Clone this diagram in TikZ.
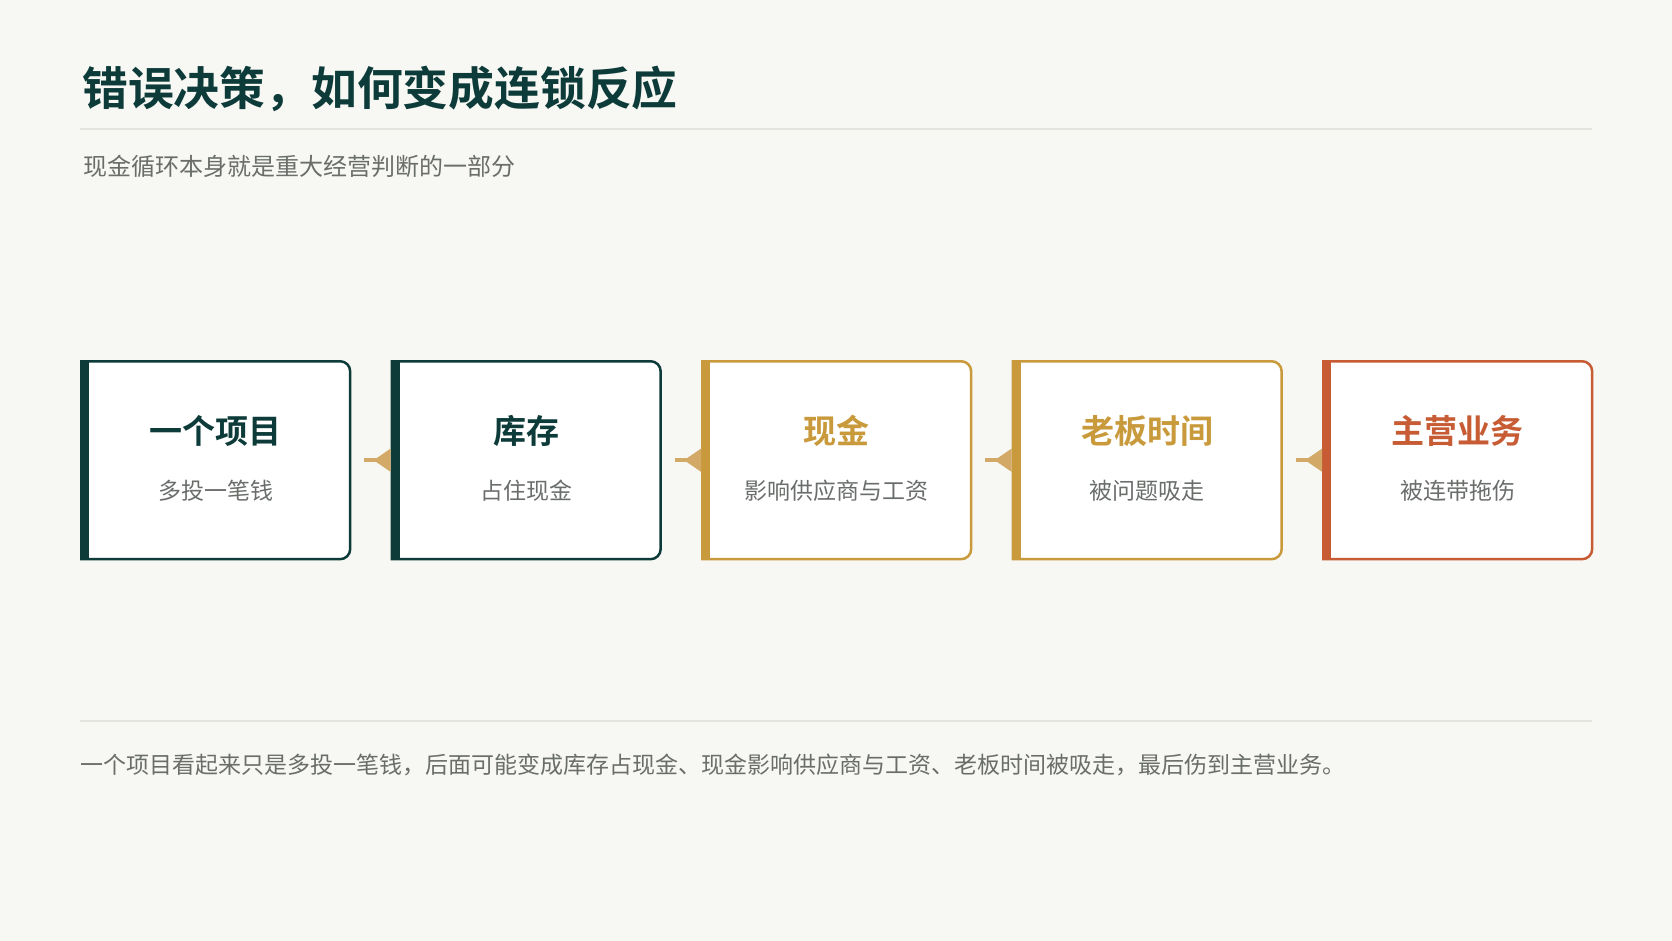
\documentclass[tikz,border=0pt]{standalone}
\usepackage{fontspec}
\usepackage{tikz}
\usetikzlibrary{
  positioning
  , calc
  , arrows.meta
}
\newfontfamily\sansCJK{Noto Sans CJK SC}
\newfontfamily\boldCJK{Noto Sans CJK SC Bold}

\definecolor{pagebg}{HTML}{F7F7F3}
\definecolor{rulegray}{HTML}{E4E4DF}
\definecolor{deepgreen}{HTML}{0D3B39}
\definecolor{gold}{HTML}{C99A3B}
\definecolor{rust}{HTML}{C65B34}
\definecolor{textgray}{HTML}{6A6E6B}
\definecolor{linkgold}{HTML}{D2A966}

\tikzset{
  stage/.style={minimum width=268.5pt, minimum height=197.5pt, inner sep=0pt, anchor=north west},
  head/.style={anchor=base, inner sep=0pt, font=\boldCJK\fontsize{33}{36}\selectfont},
  note/.style={anchor=base, inner sep=0pt, textgray, font=\sansCJK\fontsize{23}{26}\selectfont},
  link/.style={line width=4pt, linkgold, -{Triangle[reversed, length=17pt, width=22pt]}},
  hrule/.style={rulegray, line width=2pt},
}

\begin{document}
\begin{tikzpicture}[x=1pt, y=-1pt]
  \fill[pagebg] (0,0) rectangle (1672,941);

  \node[anchor=base west, inner sep=0pt, deepgreen, font=\boldCJK\fontsize{45.8}{50}\selectfont] (title) at (82,106) {错误决策，如何变成连锁反应};
  \draw[hrule] (80,129) coordinate (ruleL) -- (1592,129) coordinate (ruleR);
  \node[anchor=base west, inner sep=0pt, textgray, font=\sansCJK\fontsize{24}{28}\selectfont] (subtitle) at (83,176) {现金循环本身就是重大经营判断的一部分};

  % the five steps of the chain
  \foreach \i/\col/\ttl/\txt in {1/deepgreen/一个项目/多投一笔钱, 2/deepgreen/库存/占住现金, 3/gold/现金/影响供应商与工资, 4/gold/老板时间/被问题吸走, 5/rust/主营业务/被连带拖伤} {
    \node[stage] (b\i) at ({81.25+(\i-1)*310.5}, 361.25) {};
    \draw[\col, line width=2.5pt, fill=white] (b\i.north west) [rounded corners=10pt] -- (b\i.north east) -- (b\i.south east) [sharp corners] -- (b\i.south west) -- cycle;
    \fill[\col] ([shift={(-1.25pt,1.25pt)}]b\i.north west) rectangle ([shift={(7.75pt,-1.25pt)}]b\i.south west);
    \node[head, \col] (h\i) at ([yshift=17pt]b\i.center) {\ttl};
    \node[note] (n\i) at ([yshift=-39pt]b\i.center) {\txt};
  }
  \foreach \i [evaluate=\i as \j using int(\i+1)] in {1,...,4}
    \draw[link] ([xshift=14pt]b\i.east) -- ([xshift=-1.25pt]b\j.west);

  \draw[hrule] (80,721) coordinate (footL) -- (1592,721) coordinate (footR);
  \node[anchor=base west, inner sep=0pt, textgray, font=\sansCJK\fontsize{23}{26}\selectfont] (summary) at (80,773) {一个项目看起来只是多投一笔钱，后面可能变成库存占现金、现金影响供应商与工资、老板时间被吸走，最后伤到主营业务。};
\end{tikzpicture}
\end{document}
